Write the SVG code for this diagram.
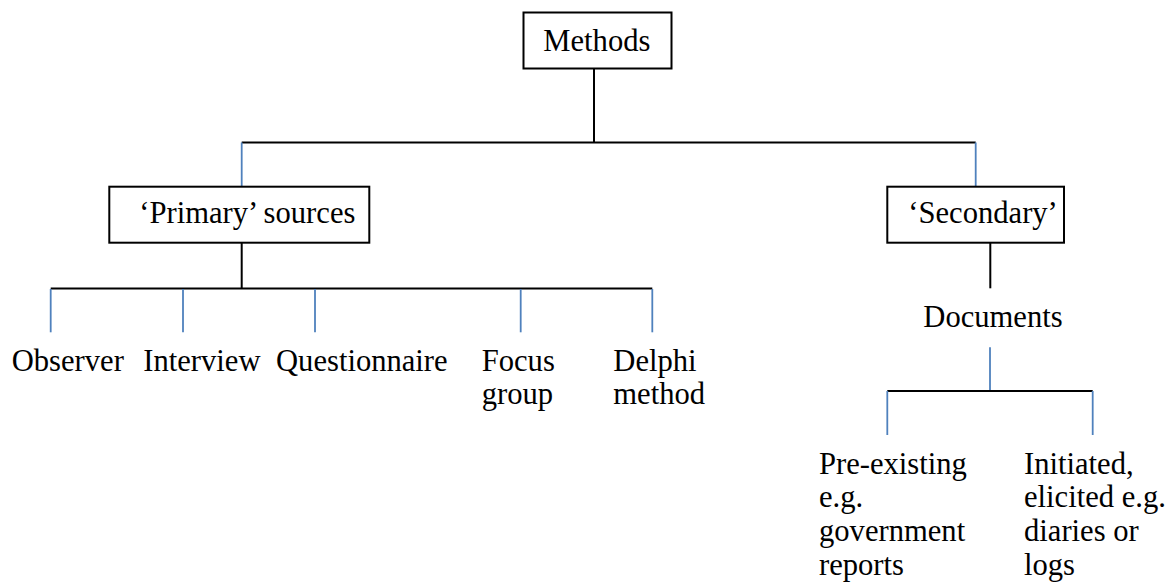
<svg xmlns="http://www.w3.org/2000/svg" width="1171" height="588" viewBox="0 0 1171 588">
<style>
.box{fill:#fff;stroke:#000;stroke-width:2}
.k{stroke:#000;stroke-width:2;fill:none}
.b{stroke:#4F81BD;stroke-width:1.8;fill:none}
text{font-family:"Liberation Serif","Times New Roman",serif;font-size:30.6px;fill:#000}
</style>
<rect width="1171" height="588" fill="#fff"/>
<g id="connectors">
<line class="k" x1="594" y1="68.5" x2="594" y2="142.5"/>
<line class="k" x1="241.7" y1="142.5" x2="975.7" y2="142.5"/>
<line class="b" x1="241.7" y1="142.5" x2="241.7" y2="186.7"/>
<line class="b" x1="975.7" y1="142.5" x2="975.7" y2="186.7"/>
<line class="k" x1="241.7" y1="242.7" x2="241.7" y2="288.5"/>
<line class="k" x1="50.7" y1="288.5" x2="652.3" y2="288.5"/>
<line class="b" x1="50.7" y1="289" x2="50.7" y2="332.3"/>
<line class="b" x1="183" y1="289" x2="183" y2="332.3"/>
<line class="b" x1="315" y1="289" x2="315" y2="332.3"/>
<line class="b" x1="520.7" y1="289" x2="520.7" y2="332.3"/>
<line class="b" x1="652.3" y1="289" x2="652.3" y2="332.3"/>
<line class="k" x1="990.3" y1="242.7" x2="990.3" y2="288.3"/>
<line class="b" x1="990" y1="347.3" x2="990" y2="391"/>
<line class="k" x1="887.3" y1="391" x2="1092.7" y2="391"/>
<line class="b" x1="887.3" y1="391" x2="887.3" y2="435"/>
<line class="b" x1="1092.7" y1="391" x2="1092.7" y2="435"/>
</g>
<g id="methods">
<rect class="box" x="523.5" y="12.5" width="148" height="56"/>
<text x="543.3" y="50.7">Methods</text>
</g>
<g id="primary">
<rect class="box" x="109.3" y="186.7" width="260" height="56"/>
<text x="139.3" y="223.3">‘Primary’ sources</text>
</g>
<g id="secondary">
<rect class="box" x="887.3" y="186.7" width="176.7" height="56"/>
<text x="908.3" y="223.3">‘Secondary’</text>
</g>
<g id="documents"><text x="923.3" y="326.7">Documents</text></g>
<g id="observer"><text x="11.7" y="371">Observer</text></g>
<g id="interview"><text x="143.3" y="371">Interview</text></g>
<g id="questionnaire"><text x="276" y="371">Questionnaire</text></g>
<g id="focus"><text x="481.7" y="371">Focus</text><text x="481.7" y="404">group</text></g>
<g id="delphi"><text x="613.3" y="371">Delphi</text><text x="613.3" y="404">method</text></g>
<g id="preexisting">
<text x="819" y="473.5">Pre-existing</text>
<text x="819" y="507.3">e.g.</text>
<text x="819" y="541.1">government</text>
<text x="819" y="575">reports</text>
</g>
<g id="initiated">
<text x="1024" y="473.5">Initiated,</text>
<text x="1024" y="507.3">elicited e.g.</text>
<text x="1024" y="541.1">diaries or</text>
<text x="1024" y="575">logs</text>
</g>
</svg>
